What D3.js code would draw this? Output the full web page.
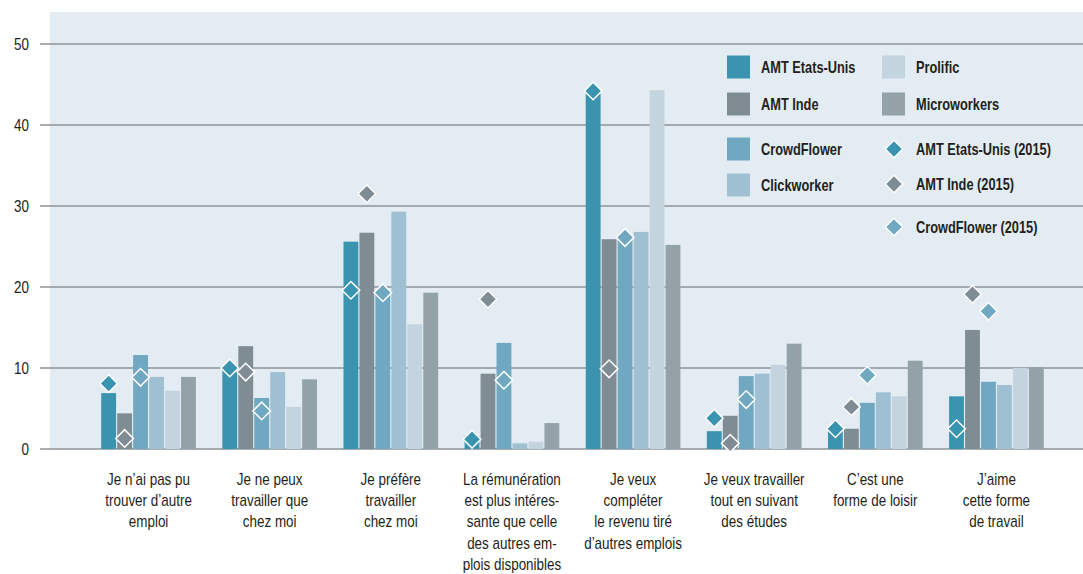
<!DOCTYPE html>
<html>
<head>
<meta charset="utf-8">
<script src="https://cdn.jsdelivr.net/npm/d3@7"></script>
<style>
  body { margin: 0; background: #fff; }
  svg text { font-family: 'Liberation Sans', Arial, sans-serif; fill: #231f20; }
</style>
</head>
<body>
<div id="wrapper"></div>
<script>
// 1. Data

const categories = [
  ['Je n’ai pas pu', 'trouver d’autre', 'emploi'],
  ['Je ne peux', 'travailler que', 'chez moi'],
  ['Je préfère', 'travailler', 'chez moi'],
  ['La rémunération', 'est plus intéres-', 'sante que celle', 'des autres em-', 'plois disponibles'],
  ['Je veux', 'compléter', 'le revenu tiré', 'd’autres emplois'],
  ['Je veux travailler', 'tout en suivant', 'des études'],
  ['C’est une', 'forme de loisir'],
  ['J’aime', 'cette forme', 'de travail'],
];

const barSeries = ['AMT Etats-Unis', 'AMT Inde', 'CrowdFlower', 'Clickworker', 'Prolific', 'Microworkers'];

const amtUS       = [6.9, 9.8, 25.6, 1.5, 44.1, 2.2, 2.2, 6.5];
const amtInde     = [4.4, 12.7, 26.7, 9.3, 25.9, 4.1, 2.5, 14.7];
const crowdFlower = [11.6, 6.3, 19.2, 13.1, 26.2, 9.0, 5.7, 8.3];
const clickworker = [8.9, 9.5, 29.3, 0.7, 26.8, 9.3, 7.0, 7.9];
const prolific    = [7.2, 5.2, 15.4, 0.9, 44.3, 10.4, 6.5, 10.0];
const microworkers = [8.9, 8.6, 19.3, 3.2, 25.2, 13.0, 10.9, 10.1];

const amtUS2015       = [8.1, 10.0, 19.6, 1.2, 44.2, 3.8, 2.5, 2.5];
const amtInde2015     = [1.3, 9.5, 31.5, 18.5, 9.9, 0.7, 5.2, 19.1];
const crowdFlower2015 = [8.85, 4.7, 19.3, 8.5, 26.1, 6.1, 9.1, 17.0];

const yTicks = [0, 10, 20, 30, 40, 50];

const colors = {
  'AMT Etats-Unis': '#3a94b0',
  'AMT Inde': '#808c94',
  'CrowdFlower': '#6fa8c0',
  'Clickworker': '#9ec0d2',
  'Prolific': '#c4d4df',
  'Microworkers': '#93a2a9',
};

const barValues = [amtUS, amtInde, crowdFlower, clickworker, prolific, microworkers];
const diamondSeries = [
  { name: 'AMT Etats-Unis (2015)', bar: 'AMT Etats-Unis', values: amtUS2015 },
  { name: 'AMT Inde (2015)', bar: 'AMT Inde', values: amtInde2015 },
  { name: 'CrowdFlower (2015)', bar: 'CrowdFlower', values: crowdFlower2015 },
];

// 2. Dimensions

const width = 1083;
const height = 574;
const plot = { left: 50, right: 1083, top: 12, bottom: 449 };
// condensed look: squeeze text horizontally
const narrow = 0.84;

const svg = d3.select('#wrapper').append('svg')
  .attr('width', width)
  .attr('height', height);

// 3. Scales

const yScale = d3.scaleLinear().domain([0, 50]).range([plot.bottom, 44]);

const xScale = d3.scaleBand()
  .domain(d3.range(categories.length))
  .range([88, 1057])
  .paddingInner(0.2)
  .paddingOuter(0.1);

const xInner = d3.scaleBand()
  .domain(barSeries)
  .range([0, xScale.bandwidth()])
  .padding(0.07);

// 4. Background + grid

svg.append('rect')
  .attr('x', plot.left).attr('y', plot.top)
  .attr('width', plot.right - plot.left)
  .attr('height', plot.bottom - plot.top)
  .attr('fill', '#e3ecf2');

const grid = svg.append('g');
grid.selectAll('line')
  .data(yTicks)
  .join('line')
  .attr('x1', 40).attr('x2', width)
  .attr('y1', (d) => yScale(d)).attr('y2', (d) => yScale(d))
  .attr('stroke', '#8e9397')
  .attr('stroke-width', 1.3);

grid.selectAll('text')
  .data(yTicks)
  .join('text')
  .attr('transform', (d) => `translate(29,${yScale(d)}) scale(${narrow},1)`)
  .attr('dy', '0.35em')
  .attr('text-anchor', 'end')
  .style('font-size', '16px')
  .text((d) => d);

// 5. Bars

const groups = svg.append('g').selectAll('g')
  .data(categories.map((c, i) => i))
  .join('g')
  .attr('transform', (i) => `translate(${xScale(i)},0)`);

groups.selectAll('rect')
  .data((i) => barSeries.map((s, k) => ({ series: s, value: barValues[k][i] })))
  .join('rect')
  .attr('x', (d) => xInner(d.series))
  .attr('width', xInner.bandwidth())
  .attr('y', (d) => yScale(d.value))
  .attr('height', (d) => yScale(0) - yScale(d.value))
  .attr('fill', (d) => colors[d.series]);

// diamonds
const diamond = d3.symbol().type(d3.symbolSquare).size(155);

groups.selectAll('path')
  .data((i) => diamondSeries.map((s) => ({ bar: s.bar, value: s.values[i] })))
  .join('path')
  .attr('d', diamond)
  .attr('transform', (d) =>
    `translate(${xInner(d.bar) + xInner.bandwidth() / 2},${yScale(d.value)}) rotate(45)`)
  .attr('fill', (d) => colors[d.bar])
  .attr('stroke', '#fff')
  .attr('stroke-width', 1.5);

// 6. Category labels

const labels = svg.append('g').selectAll('text')
  .data(categories)
  .join('text')
  .attr('text-anchor', 'middle')
  .style('font-size', '16px')
  .attr('transform', (d, i) =>
    `translate(${xScale(i) + xScale.bandwidth() / 2},485) scale(${narrow},1)`);

labels.selectAll('tspan')
  .data((d) => d)
  .join('tspan')
  .attr('x', 0)
  .attr('y', (d, j) => j * 21.2)
  .text((d) => d);

// 7. Legend

const legendItems = [
  { name: 'AMT Etats-Unis', kind: 'bar', col: 0, y: 67 },
  { name: 'AMT Inde', kind: 'bar', col: 0, y: 104 },
  { name: 'CrowdFlower', kind: 'bar', col: 0, y: 149 },
  { name: 'Clickworker', kind: 'bar', col: 0, y: 185 },
  { name: 'Prolific', kind: 'bar', col: 1, y: 67 },
  { name: 'Microworkers', kind: 'bar', col: 1, y: 104 },
  { name: 'AMT Etats-Unis (2015)', kind: 'diamond', color: colors['AMT Etats-Unis'], col: 1, y: 149 },
  { name: 'AMT Inde (2015)', kind: 'diamond', color: colors['AMT Inde'], col: 1, y: 184 },
  { name: 'CrowdFlower (2015)', kind: 'diamond', color: colors['CrowdFlower'], col: 1, y: 227 },
];
const colX = [727, 882];

const legend = svg.append('g').selectAll('g')
  .data(legendItems)
  .join('g')
  .attr('transform', (d) => `translate(${colX[d.col]},${d.y})`);

legend.filter((d) => d.kind === 'bar')
  .append('rect')
  .attr('x', 0).attr('y', -11.5)
  .attr('width', 23).attr('height', 23)
  .attr('fill', (d) => colors[d.name]);

legend.filter((d) => d.kind === 'diamond')
  .append('path')
  .attr('d', diamond)
  .attr('transform', 'translate(12,0) rotate(45)')
  .attr('fill', (d) => d.color)
  .attr('stroke', '#fff')
  .attr('stroke-width', 1.5);

legend.append('text')
  .attr('transform', 'translate(34,0) scale(0.8,1)')
  .attr('dy', '0.36em')
  .style('font-size', '16px')
  .style('font-weight', 'bold')
  .text((d) => d.name);
</script>
</body>
</html>
